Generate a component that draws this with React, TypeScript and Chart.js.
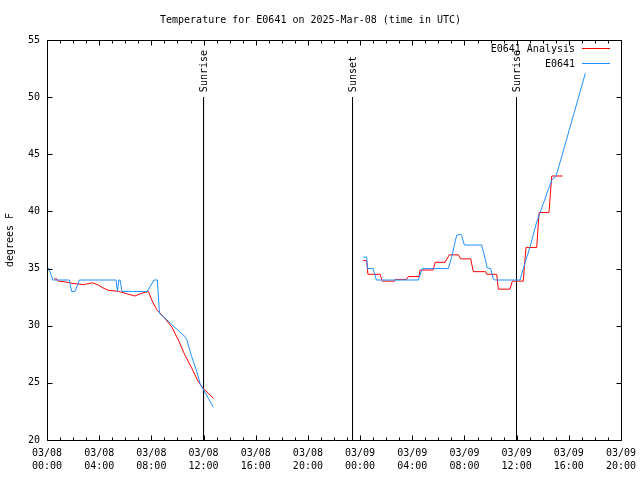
import React, { useEffect, useRef } from "react";
import { Chart, registerables } from "chart.js";

Chart.register(...registerables);

const TITLE = "Temperature for E0641 on 2025-Mar-08 (time in UTC)";
const Y_TITLE = "degrees F";
const SERIES_NAMES = ["E0641 Analysis", "E0641"];
const SERIES_COLORS = ["#ff0000", "#1e90ff"];
const FONT = "'DejaVu Sans Mono', 'Liberation Mono', monospace";

// hours since 2025-03-08 00:00 UTC (null temperature = gap)
const analysisHours = [
  0.55, 0.75, 0.85, 1.3, 2.0, 2.8, 3.5, 3.95, 4.3, 4.7, 5.5, 6.1, 6.75, 7.15, 7.77, 8.05, 8.41, 8.92, 9.56, 10.07,
  10.58, 11.09, 11.6, 11.98, 12.75, 18,
  24.25, 24.5, 24.6, 25.53, 25.7, 26.65, 26.7, 27.57, 27.7, 28.52, 28.6, 29.6, 29.75, 30.51, 30.84, 31.53, 31.71,
  32.48, 32.68, 33.62, 33.71, 34.47, 34.6, 35.49, 35.67, 36.51, 36.59, 36.72, 37.54, 37.72, 38.48, 38.69, 39.53,
];
const analysisTemps = [
  34.1, 34.1, 33.9, 33.85, 33.7, 33.6, 33.75, 33.55, 33.3, 33.1, 33.0, 32.8, 32.6, 32.8, 33.0, 32.2, 31.4, 30.8, 29.9,
  28.75, 27.4, 26.3, 25.1, 24.5, 23.65, null,
  35.7, 35.7, 34.5, 34.5, 33.9, 33.9, 34.05, 34.05, 34.3, 34.3, 34.87, 34.87, 35.55, 35.55, 36.2, 36.2, 35.85, 35.85,
  34.73, 34.73, 34.5, 34.5, 33.2, 33.2, 33.9, 33.9, 35.1, 36.85, 36.85, 39.9, 39.9, 43.1, 43.1,
];

const obsHours = [
  0, 0.15, 0.44, 1.71, 1.89, 2.15, 2.48, 5.29, 5.4, 5.5, 5.6, 5.75, 7.69, 8.2, 8.46, 8.62, 8.79, 9.43, 10.07, 10.58,
  10.71, 11.09, 11.48, 11.73, 11.94, 12.37, 12.75, 18,
  24.25, 24.5, 24.57, 25.0, 25.25, 28.46, 28.77, 30.76, 31.02, 31.28, 31.41, 31.66, 31.79, 31.99, 33.32, 33.58, 33.75,
  34.01, 34.21, 34.34, 36.26, 36.64, 37.03, 37.54, 38.05, 38.69, 39.02, 39.38, 40.3, 41.27,
];
const obsTemps = [
  35, 35, 34, 34, 33, 33, 34, 34, 33, 34, 34, 33, 33, 34, 34, 31.1, 30.9, 30.26, 29.56, 29.04, 28.8, 27.3, 26.0, 24.96,
  24.5, 23.65, 22.86, null,
  36, 36, 35, 35, 34, 34, 35, 35, 36, 37.35, 37.9, 38, 37.9, 37.06, 37.06, 35.9, 35.05, 35.0, 34.1, 34, 34, 35.5, 36.9,
  39.1, 40.7, 42.75, 43.1, 44.5, 48.2, 52.1,
];

const xTickDays = ["03/08", "03/08", "03/08", "03/08", "03/08", "03/08", "03/09", "03/09", "03/09", "03/09", "03/09", "03/09"];
const xTickTimes = ["00:00", "04:00", "08:00", "12:00", "16:00", "20:00", "00:00", "04:00", "08:00", "12:00", "16:00", "20:00"];
const X_MIN = 0;
const X_MAX = 44;
const X_STEP = 4;
const Y_MIN = 20;
const Y_MAX = 55;
const Y_STEP = 5;

const sunEventNames = ["Sunrise", "Sunset", "Sunrise"];
const sunEventHours = [12.0, 23.42, 35.99];
const SUN_LINE_TOP = 50;

const toPoints = (hs: number[], ts: (number | null)[]) => hs.map((h, i) => ({ x: h, y: ts[i] }));

const decorPlugin = {
  id: "decor",
  afterDraw(chart: any) {
    const { ctx, chartArea: a, scales } = chart;
    const xs = scales.x;
    const ys = scales.y;
    ctx.save();
    ctx.strokeStyle = "#000";
    ctx.lineWidth = 1;
    const L = Math.round(a.left) + 0.5;
    const R = Math.round(a.right) + 0.5;
    const T = Math.round(a.top) + 0.5;
    const B = Math.round(a.bottom) + 0.5;
    ctx.beginPath();
    ctx.moveTo(L, T);
    ctx.lineTo(R, T);
    ctx.lineTo(R, B);
    ctx.lineTo(L, B);
    ctx.closePath();
    // x ticks (inward, mirrored)
    for (let h = X_MIN; h <= X_MAX; h += 1) {
      const px = Math.round(xs.getPixelForValue(h)) + 0.5;
      const len = h % X_STEP === 0 ? 5 : 3;
      ctx.moveTo(px, B);
      ctx.lineTo(px, B - len);
      ctx.moveTo(px, T);
      ctx.lineTo(px, T + len);
    }
    for (let v = Y_MIN; v <= Y_MAX; v += Y_STEP) {
      const py = Math.round(ys.getPixelForValue(v)) + 0.5;
      ctx.moveTo(L, py);
      ctx.lineTo(L + 5, py);
      ctx.moveTo(R, py);
      ctx.lineTo(R - 5, py);
    }
    ctx.stroke();

    // sun event labels
    ctx.fillStyle = "#000";
    ctx.font = `10px ${FONT}`;
    sunEventHours.forEach((h, i) => {
      const px = xs.getPixelForValue(h);
      const py = ys.getPixelForValue(SUN_LINE_TOP);
      ctx.save();
      ctx.translate(px + 1, py - 5);
      ctx.rotate(-Math.PI / 2);
      ctx.textAlign = "left";
      ctx.textBaseline = "middle";
      ctx.fillText(sunEventNames[i], 0, 0);
      ctx.restore();
    });

    // legend
    SERIES_NAMES.forEach((name, i) => {
      const y = 48 + i * 15;
      ctx.textAlign = "right";
      ctx.textBaseline = "middle";
      ctx.fillStyle = "#000";
      ctx.fillText(name, 575, y + 1);
      ctx.strokeStyle = SERIES_COLORS[i];
      ctx.beginPath();
      ctx.moveTo(582, y + 0.5);
      ctx.lineTo(610, y + 0.5);
      ctx.stroke();
    });
    ctx.restore();
  },
};

export default function App() {
  const ref = useRef<HTMLCanvasElement | null>(null);
  useEffect(() => {
    if (!ref.current) return;
    Chart.defaults.font.family = FONT;
    Chart.defaults.color = "#000";
    const sunDatasets = sunEventHours.map((h, i) => ({
      label: sunEventNames[i],
      data: [
        { x: h, y: SUN_LINE_TOP },
        { x: h, y: Y_MIN },
      ],
      borderColor: "#000",
      borderWidth: 1,
      pointRadius: 0,
      order: 3,
    }));
    const chart = new Chart(ref.current, {
      type: "line",
      data: {
        datasets: [
          {
            label: SERIES_NAMES[0],
            data: toPoints(analysisHours, analysisTemps),
            borderColor: SERIES_COLORS[0],
            borderWidth: 1,
            pointRadius: 0,
            spanGaps: false,
            order: 2,
          },
          {
            label: SERIES_NAMES[1],
            data: toPoints(obsHours, obsTemps),
            borderColor: SERIES_COLORS[1],
            borderWidth: 1,
            pointRadius: 0,
            spanGaps: false,
            order: 1,
          },
          ...sunDatasets,
        ],
      },
      options: {
        responsive: false,
        animation: false,
        devicePixelRatio: 1,
        layout: { padding: { left: 0, right: 19, top: 0, bottom: 0 } },
        plugins: {
          legend: { display: false },
          tooltip: { enabled: false },
          title: {
            display: true,
            text: TITLE,
            color: "#000",
            font: { family: FONT, size: 10, weight: "normal", lineHeight: 1.2 },
            padding: { top: 14, bottom: 14 },
          },
        },
        scales: {
          x: {
            type: "linear",
            min: X_MIN,
            max: X_MAX,
            grid: { display: false, drawTicks: false },
            border: { display: false },
            afterFit: (s: any) => {
              s.height = 40;
              s.paddingLeft = 0;
              s.paddingRight = 0;
            },
            ticks: {
              stepSize: X_STEP,
              autoSkip: false,
              maxRotation: 0,
              minRotation: 0,
              padding: 7,
              color: "#000",
              font: { family: FONT, size: 10, lineHeight: 1.3 },
              callback: (v: any) => {
                const i = Math.round((Number(v) - X_MIN) / X_STEP);
                return [xTickDays[i], xTickTimes[i]];
              },
            },
          },
          y: {
            min: Y_MIN,
            max: Y_MAX,
            grid: { display: false, drawTicks: false },
            border: { display: false },
            afterFit: (s: any) => {
              s.width = 47;
            },
            title: {
              display: true,
              text: Y_TITLE,
              color: "#000",
              font: { family: FONT, size: 10, lineHeight: 1.2 },
              padding: { top: 4, bottom: 0 },
            },
            ticks: {
              stepSize: Y_STEP,
              padding: 7,
              color: "#000",
              font: { family: FONT, size: 10 },
            },
          },
        },
      },
      plugins: [decorPlugin],
    } as any);
    return () => chart.destroy();
  }, []);
  return (
    <div style={{ position: "absolute", left: 0, top: 0, width: 640, height: 480, background: "#fff" }}>
      <canvas ref={ref} width={640} height={480} style={{ display: "block" }} />
    </div>
  );
}
